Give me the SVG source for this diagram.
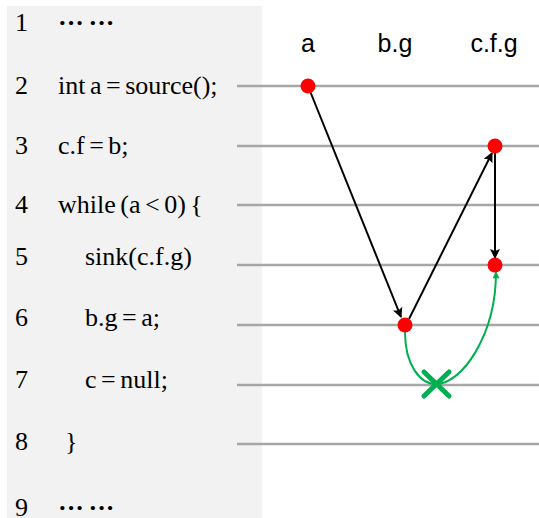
<svg xmlns="http://www.w3.org/2000/svg" width="539" height="518" viewBox="0 0 539 518">
<style>
.code{font-family:"Liberation Serif","Times New Roman",serif;font-size:26px;fill:#000;word-spacing:-2px}
.lbl{font-family:"Liberation Sans",Arial,sans-serif;font-size:25px;fill:#000}
.row{stroke:#a6a6a6;stroke-width:2.5}
.blk{stroke:#000;stroke-width:2;fill:none}
.grn{stroke:#00b050;stroke-width:2;fill:none}
.dot{fill:#ff0000}
</style>
<defs>
<marker id="ab" viewBox="0 0 10 10" refX="9" refY="5" markerWidth="11" markerHeight="10" orient="auto" markerUnits="userSpaceOnUse">
<path d="M0,0 L10,5 L0,10 L2,5 z" fill="#000"/>
</marker>
<marker id="ag" viewBox="0 0 10 10" refX="9" refY="5" markerWidth="8" markerHeight="7" orient="auto" markerUnits="userSpaceOnUse">
<path d="M0,0 L10,5 L0,10 z" fill="#00b050"/>
</marker>
</defs>
<rect x="7" y="6" width="255" height="512" fill="#f2f2f2"/>
<g id="code">
<text class="code" x="15" y="31">1</text><text class="code" x="58" y="31" font-weight="bold">··· ···</text>
<text class="code" x="15" y="94">2</text><text class="code" x="58" y="94">int a = source();</text>
<text class="code" x="15" y="154">3</text><text class="code" x="58" y="154">c.f = b;</text>
<text class="code" x="15" y="213">4</text><text class="code" x="58" y="213">while (a &lt; 0) {</text>
<text class="code" x="15" y="265">5</text><text class="code" x="85" y="265">sink(c.f.g)</text>
<text class="code" x="15" y="326">6</text><text class="code" x="85" y="326">b.g = a;</text>
<text class="code" x="15" y="388">7</text><text class="code" x="85" y="388">c = null;</text>
<text class="code" x="15" y="450">8</text><text class="code" x="65" y="450">}</text>
<text class="code" x="15" y="516">9</text><text class="code" x="58" y="516" font-weight="bold">··· ···</text>
</g>
<g id="rows">
<line class="row" x1="237" y1="86" x2="539" y2="86"/>
<line class="row" x1="237" y1="146" x2="539" y2="146"/>
<line class="row" x1="237" y1="205" x2="539" y2="205"/>
<line class="row" x1="237" y1="265" x2="539" y2="265"/>
<line class="row" x1="237" y1="325" x2="539" y2="325"/>
<line class="row" x1="237" y1="385" x2="539" y2="385"/>
<line class="row" x1="237" y1="444" x2="539" y2="444"/>
</g>
<g id="labels">
<text class="lbl" x="308" y="52" text-anchor="middle">a</text>
<text class="lbl" x="395" y="52" text-anchor="middle">b.g</text>
<text class="lbl" x="494" y="52" text-anchor="middle">c.f.g</text>
</g>
<g id="connectors">
<line class="blk" x1="310" y1="91" x2="401" y2="317" marker-end="url(#ab)"/>
<line class="blk" x1="409" y1="319" x2="492" y2="153" marker-end="url(#ab)"/>
<line class="blk" x1="495" y1="152" x2="495" y2="258" marker-end="url(#ab)"/>
<path class="grn" d="M405,332 C405,365 420,384 436,384 C462,384 496,335 496,272" marker-end="url(#ag)"/>
</g>
<g id="n-a"><circle class="dot" cx="308" cy="86" r="7.5"/></g>
<g id="n-cfg1"><circle class="dot" cx="495" cy="146" r="7.5"/></g>
<g id="n-cfg2"><circle class="dot" cx="495" cy="265" r="7.5"/></g>
<g id="n-bg"><circle class="dot" cx="405" cy="325" r="7.5"/></g>
<g id="cross">
<path d="M424,372 L449,396 M449,372 L424,396" stroke="#00b050" stroke-width="5" stroke-linecap="round"/>
</g>
</svg>
